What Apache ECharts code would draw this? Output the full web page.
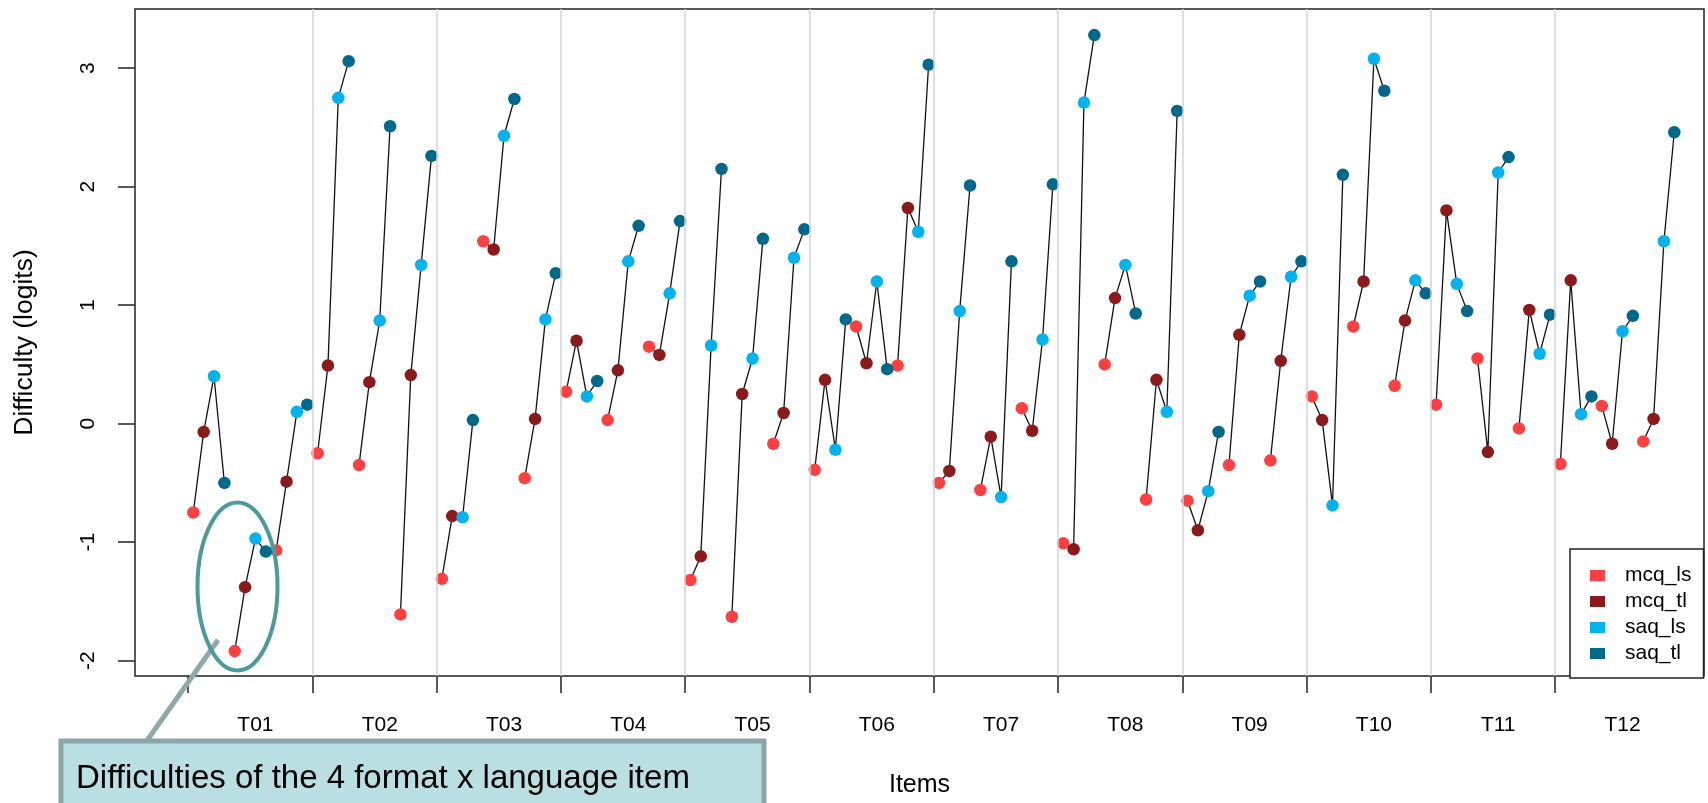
<!DOCTYPE html>
<html>
<head>
<meta charset="utf-8">
<script src="https://cdn.jsdelivr.net/npm/echarts@6/dist/echarts.min.js"></script>
<style>
html,body{margin:0;padding:0;background:#fff;}
#chart{width:1708px;height:803px;}
</style>
</head>
<body>
<div id="chart"></div>
<script>
// ---- data (difficulty in logits), 12 tasks x 3 items each ----
const groupLabels = ['T01','T02','T03','T04','T05','T06','T07','T08','T09','T10','T11','T12'];
const seriesNames = ['mcq_ls','mcq_tl','saq_ls','saq_tl'];
const mcq_ls = [-0.75,-1.92,-1.07, -0.25,-0.35,-1.61, -1.31,1.54,-0.46, 0.27,0.03,0.65,
                -1.32,-1.63,-0.17, -0.39,0.82,0.49, -0.50,-0.56,0.13, -1.01,0.50,-0.64,
                -0.65,-0.35,-0.31, 0.23,0.82,0.32, 0.16,0.55,-0.04, -0.34,0.15,-0.15];
const mcq_tl = [-0.07,-1.38,-0.49, 0.49,0.35,0.41, -0.78,1.47,0.04, 0.70,0.45,0.58,
                -1.12,0.25,0.09, 0.37,0.51,1.82, -0.40,-0.11,-0.06, -1.06,1.06,0.37,
                -0.90,0.75,0.53, 0.03,1.20,0.87, 1.80,-0.24,0.96, 1.21,-0.17,0.04];
const saq_ls = [0.40,-0.97,0.10, 2.75,0.87,1.34, -0.79,2.43,0.88, 0.23,1.37,1.10,
                0.66,0.55,1.40, -0.22,1.20,1.62, 0.95,-0.62,0.71, 2.71,1.34,0.10,
                -0.57,1.08,1.24, -0.69,3.08,1.21, 1.18,2.12,0.59, 0.08,0.78,1.54];
const saq_tl = [-0.50,-1.08,0.16, 3.06,2.51,2.26, 0.03,2.74,1.27, 0.36,1.67,1.71,
                2.15,1.56,1.64, 0.88,0.46,3.03, 2.01,1.37,2.02, 3.28,0.93,2.64,
                -0.07,1.20,1.37, 2.10,2.81,1.10, 0.95,2.25,0.92, 0.23,0.91,2.46];
const yTicks = [-2,-1,0,1,2,3];
const colors = ['#FF4040','#8B1A1A','#00B2EE','#00688B'];

const formats = [mcq_ls, mcq_tl, saq_ls, saq_tl];
const nItems = mcq_ls.length;
const perGroup = 3;
const pos = (n, f) => n * 4 + f + 1;
const groupTicks = groupLabels.map((g, k) => k * perGroup * 4 + 0.5);
const labelPos = groupLabels.map((g, k) => k * perGroup * 4 + 7);
const sepLines = groupTicks.slice(1);

// connecting lines (broken between items)
const lineData = [];
for (let n = 0; n < nItems; n++) {
  for (let f = 0; f < 4; f++) lineData.push([pos(n, f), formats[f][n]]);
  lineData.push([pos(n, 3) + 0.5, '-']);
}

const FONT = '"Liberation Sans", Arial, sans-serif';
const chart = echarts.init(document.getElementById('chart'), null, {renderer: 'canvas'});

const scatterSeries = seriesNames.map((name, f) => ({
  name: name,
  type: 'scatter',
  z: 4,
  symbol: 'circle',
  symbolSize: 12.5,
  itemStyle: {color: colors[f], opacity: 1},
  data: formats[f].map((v, n) => [pos(n, f), v])
}));

chart.setOption({
  animation: false,
  backgroundColor: '#ffffff',
  grid: {left: 135, right: 4, top: 9, bottom: 126, show: true, borderColor: '#222', borderWidth: 1.5, backgroundColor: 'transparent'},
  xAxis: {
    type: 'value', min: -4.63, max: 146.87,
    name: 'Items', nameLocation: 'middle', nameGap: 97,
    nameTextStyle: {fontFamily: FONT, fontSize: 25, color: '#000', lineHeight: 25},
    axisLine: {show: false, onZero: false},
    splitLine: {show: false},
    axisTick: {show: true, inside: false, length: 17, customValues: groupTicks, lineStyle: {color: '#222', width: 1.5}},
    axisLabel: {show: true, customValues: labelPos, margin: 39, fontFamily: FONT, fontSize: 21, lineHeight: 21, color: '#000',
      formatter: v => groupLabels[Math.round((v - 7) / 12)] || ''}
  },
  yAxis: {
    type: 'value', min: -2.13, max: 3.5,
    name: 'Difficulty (logits)', nameLocation: 'middle', nameGap: 97, nameRotate: 90,
    nameTextStyle: {fontFamily: FONT, fontSize: 26.5, color: '#000', lineHeight: 26},
    axisLine: {show: false, onZero: false},
    splitLine: {show: false},
    axisTick: {show: true, inside: false, length: 17, customValues: yTicks, lineStyle: {color: '#222', width: 1.5}},
    axisLabel: {show: true, customValues: yTicks, rotate: 90, margin: 36, fontFamily: FONT, fontSize: 21, lineHeight: 21, color: '#000'}
  },
  legend: {
    data: seriesNames, orient: 'vertical', left: 1570, top: 549,
    padding: [16, 12, 14, 20], itemGap: 5, itemWidth: 15, itemHeight: 11,
    icon: 'rect', selectedMode: false,
    backgroundColor: '#fff', borderColor: '#222', borderWidth: 1.5, borderRadius: 0,
    textStyle: {fontFamily: FONT, fontSize: 21, lineHeight: 21, color: '#000', padding: [0, 0, 0, 15]}
  },
  series: [
    {
      name: 'sep', type: 'line', data: [], z: 1, silent: true,
      markLine: {silent: true, symbol: ['none', 'none'], label: {show: false},
        lineStyle: {color: '#d3d3d3', width: 1.5, type: 'solid'},
        emphasis: {disabled: true},
        data: sepLines.map(x => ({xAxis: x}))}
    },
    {
      name: 'links', type: 'line', z: 3, data: lineData, connectNulls: false,
      showSymbol: false, symbol: 'none', silent: true,
      lineStyle: {color: '#111', width: 1.3}
    }
  ].concat(scatterSeries),
  graphic: [
    {type: 'line', z: 100, shape: {x1: 218, y1: 640, x2: 146, y2: 742}, style: {stroke: '#8fa9aa', lineWidth: 5}},
    {type: 'ellipse', z: 100, shape: {cx: 237.5, cy: 586.5, rx: 40, ry: 84}, style: {fill: 'none', stroke: '#4a9a9e', lineWidth: 4}},
    {type: 'rect', z: 101, shape: {x: 61, y: 741, width: 703, height: 90}, style: {fill: '#b9dfe2', stroke: '#8ca6a7', lineWidth: 5}},
    {type: 'text', z: 102, style: {x: 76, y: 779, text: 'Difficulties of the 4 format x language item', fill: '#000',
      font: '33px "Liberation Sans", Arial, sans-serif', verticalAlign: 'middle', align: 'left'}}
  ]
});
</script>
</body>
</html>
